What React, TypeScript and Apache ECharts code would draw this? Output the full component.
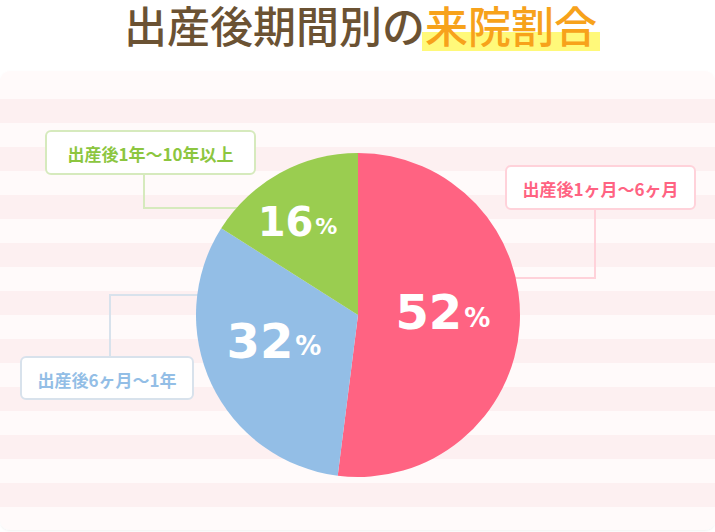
import React, { useEffect, useRef } from "react";
import * as echarts from "echarts";

const titleMain = "出産後期間別の";
const titleAccent = "来院割合";
const categories = ["出産後1ヶ月〜6ヶ月", "出産後6ヶ月〜1年", "出産後1年〜10年以上"];
const values = [52, 32, 16];
const sliceColors = ["#ff6382", "#93bee6", "#9acd50"];
const textColors = ["#ff6382", "#93bee6", "#8cc63f"];
const borderColors = ["#ffd2da", "#d8e2ec", "#d6eabd"];

export default function App() {
  const ref = useRef<HTMLDivElement>(null);
  useEffect(() => {
    if (!ref.current) return;
    const chart = echarts.init(ref.current, undefined, { renderer: "svg" });

    const stripes: any[] = [];
    for (let y = 99; y < 530; y += 48) {
      stripes.push({
        type: "rect",
        z: -10,
        shape: { x: 0, y, width: 715, height: Math.min(24, 530 - y) },
        style: { fill: "#fdf0f1" },
        silent: true,
      });
    }

    const boxes = [
      { x: 506, y: 166, w: 189, h: 43, line: [[595, 209], [595, 278], [500, 278]] },
      { x: 21, y: 357, w: 172, h: 42, line: [[110, 357], [110, 295], [240, 295]] },
      { x: 46, y: 131, w: 209, h: 43, line: [[144, 174], [144, 208], [260, 208]] },
    ];

    const callouts: any[] = [];
    boxes.forEach((b, i) => {
      callouts.push({
        type: "polyline",
        z: -5,
        shape: { points: b.line },
        style: { stroke: borderColors[i], lineWidth: 2, fill: null },
        silent: true,
      });
      callouts.push({
        type: "rect",
        z: -4,
        shape: { x: b.x, y: b.y, width: b.w, height: b.h, r: 5 },
        style: { fill: "#ffffff", stroke: borderColors[i], lineWidth: 2 },
        silent: true,
      });
      callouts.push({
        type: "text",
        z: -3,
        x: b.x + b.w / 2,
        y: b.y + b.h / 2 + 1,
        style: {
          text: categories[i],
          fill: textColors[i],
          font: 'bold 17px "Noto Sans CJK JP"',
          align: "center",
          verticalAlign: "middle",
        },
        silent: true,
      });
    });

    const labelOffsets = [[1, -8], [-8, -10], [-20, -19]];
    const bigSizes = [48, 48, 40];
    const smallSizes = [26, 26, 22];

    chart.setOption({
      animation: false,
      graphic: [
        {
          type: "rect",
          z: -20,
          shape: { x: 0, y: 71, width: 715, height: 459, r: 10 },
          style: { fill: "#fffafa", shadowBlur: 2, shadowColor: "rgba(0,0,0,0.06)", shadowOffsetY: 1 },
          silent: true,
        },
        ...stripes,
        {
          type: "rect",
          z: -1,
          shape: { x: 422, y: 32, width: 178, height: 19 },
          style: { fill: "#fff97a" },
          silent: true,
        },
        {
          type: "text",
          z: 5,
          x: 124,
          y: 24,
          style: {
            text: titleMain,
            fill: "#6b5233",
            font: '500 43px "Noto Sans CJK JP"',
            align: "left",
            verticalAlign: "middle",
          },
          silent: true,
        },
        {
          type: "text",
          z: 5,
          x: 425,
          y: 24,
          style: {
            text: titleAccent,
            fill: "#f7a21b",
            font: '500 43px "Noto Sans CJK JP"',
            align: "left",
            verticalAlign: "middle",
          },
          silent: true,
        },
        ...callouts,
      ],
      series: [
        {
          type: "pie",
          z: 10,
          center: [358, 315],
          radius: 162,
          startAngle: 90,
          clockwise: true,
          silent: true,
          itemStyle: { borderWidth: 0 },
          labelLine: { show: false },
          data: values.map((v, i) => ({
            value: v,
            name: categories[i],
            itemStyle: { color: sliceColors[i] },
            label: {
              show: true,
              position: "inside",
              offset: labelOffsets[i],
              formatter: "{n|{c}}{p|%}",
              rich: {
                n: {
                  fontFamily: "DejaVu Sans",
                  fontWeight: "bold",
                  fontSize: bigSizes[i],
                  color: "#ffffff",
                },
                p: {
                  fontFamily: "DejaVu Sans",
                  fontWeight: "bold",
                  fontSize: smallSizes[i],
                  color: "#ffffff",
                  padding: [bigSizes[i] * 0.22, 0, 0, 2],
                },
              },
            },
          })),
        },
      ],
    });
    return () => chart.dispose();
  }, []);
  return (
    <div
      ref={ref}
      style={{ position: "fixed", left: 0, top: 0, width: 715, height: 532, background: "#ffffff" }}
    />
  );
}
